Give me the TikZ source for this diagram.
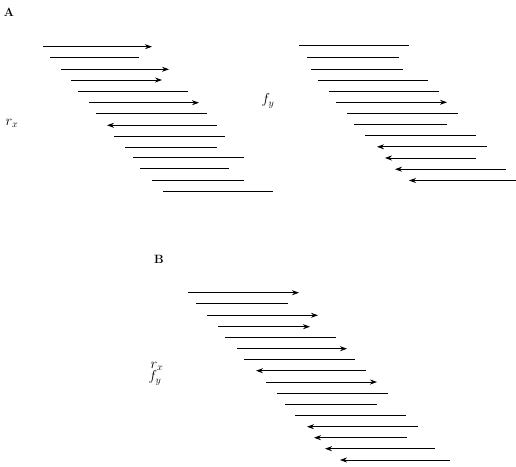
\documentclass[tikz,border=0pt]{standalone}
\usepackage{tikz}
\usetikzlibrary{arrows.meta}

\begin{document}
\begin{tikzpicture}[x=1pt, y=-1pt, every node/.style={font=\Large, inner sep=0pt},
    >={Stealth[length=7pt,width=5pt]}, fiber/.style={line width=0.8pt}]
    \useasboundingbox (0,0) rectangle (516,466);

    % Panel labels
    \node[font=\large\bfseries] (labA) at (9,12) {A};
    \node[font=\large\bfseries] (labB) at (159,259) {B};

    % Axis labels
    \node (rxA) at (12,123) {$r_x$};
    \node (fyA) at (268,101) {$f_y$};
    \node (rxB) at (157,366) {$r_x$};
    \node (fyB) at (155,378) {$f_y$};

    % A, left stack (start x / end x / row y / tip)
    \foreach \xa/\xb/\yy/\tip in {43/152/46.7/->, 50/139/57.7/-, 61/169/69.3/->,
        71/162/80/->, 78/188/91/-, 89/199/102.7/->, 96/207/113.7/-,
        107/217/125.3/<-, 114/225/136/-, 125/217/147/-, 133/244/157.5/-,
        140/229/168.5/-, 152/244/180/-, 163/273/191/-}
      \draw[fiber,\tip] (\xa,\yy) -- (\xb,\yy);

    % A, right stack
    \foreach \xa/\xb/\yy/\tip in {299/409/45.7/-, 307/399/57.3/-, 311/403/69/-,
        318/428/80.3/-, 329/439/91.3/-, 336/447/102.3/->, 347/458/113.7/-,
        354/447/124.7/-, 365/476/135.5/-, 377/487/146.8/<-, 385/476/158/<-,
        395/506/169.2/<-, 409/516/180.5/<-}
      \draw[fiber,\tip] (\xa,\yy) -- (\xb,\yy);

    % B, combined stack
    \foreach \xa/\xb/\yy/\tip in {188/299/292.7/->, 196/288/303.7/-, 207/318/315.3/->,
        218/310/326.7/->, 225/336/337.7/-, 237/347/348.7/->, 244/355/359.3/-,
        256/366/370.7/<-, 266/377/382/->, 277/388/393.3/-, 285/377/404.3/-,
        295/406/415.3/-, 307/418/426.7/<-, 314/407/437.7/<-, 325/435/448.7/<-,
        340/450/460/<-}
      \draw[fiber,\tip] (\xa,\yy) -- (\xb,\yy);
\end{tikzpicture}
\end{document}
